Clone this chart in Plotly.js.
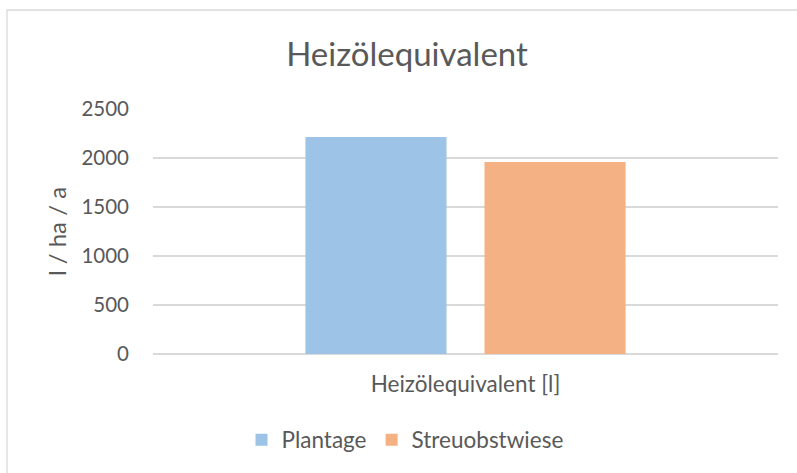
<!DOCTYPE html>
<html><head><meta charset="utf-8">
<script src="https://cdn.plot.ly/plotly-3.0.1.min.js"></script>
<style>html,body{margin:0;padding:0;background:#fff;}#chart{width:797px;height:473px;}</style>
</head><body><div id="chart"></div>
<script>
const categories = ["Heizölequivalent [l]"];
const seriesNames = ["Plantage", "Streuobstwiese"];
const plantage = [2215];
const streuobstwiese = [1960];
const yTicks = [0, 500, 1000, 1500, 2000, 2500];
const colors = ["#9DC3E6", "#F4B183"];
const font = "Lato, 'Open Sans', sans-serif";
const txt = "#595959";

const traces = [
  {type:"bar", name:seriesNames[0], x:categories, y:plantage, marker:{color:colors[0]}, hoverinfo:"none"},
  {type:"bar", name:seriesNames[1], x:categories, y:streuobstwiese, marker:{color:colors[1]}, hoverinfo:"none"}
];
const layout = {
  width:797, height:473,
  margin:{l:153, r:19, t:109, b:119},
  paper_bgcolor:"#fff", plot_bgcolor:"#fff",
  font:{family:font, color:txt},
  title:{text:"Heizölequivalent", font:{size:33, color:txt, family:font}, x:407/797, xref:"container", xanchor:"center", y:1-54/473, yref:"container", yanchor:"middle"},
  barmode:"group", bargap:0.427, bargroupgap:0.212,
  xaxis:{showgrid:false, showline:false, zeroline:false, ticks:"", tickfont:{size:22.5, color:txt}, ticklabelstandoff:14, fixedrange:true},
  yaxis:{range:[0,2500], tickvals:yTicks, ticktext:yTicks.map(String), showgrid:true, gridcolor:"#D9D9D9", gridwidth:1.3, zeroline:true, zerolinecolor:"#D9D9D9", zerolinewidth:1.3, showline:false, ticks:"", tickfont:{size:20.5, color:txt}, ticklabelstandoff:23,
    title:{text:"l / ha / a", font:{size:24, color:txt}, standoff:8}},
  legend:{orientation:"h", x:405/797, xref:"container", xanchor:"center", y:1-440/473, yref:"container", yanchor:"middle", font:{size:22.5, color:txt}, itemwidth:30, traceorder:"normal"},
  showlegend:true
};
// chart frame: top edge at y=10px, left edge at x=7px, continuing past the page
layout.shapes = [{type:"rect", xref:"paper", yref:"paper",
  x0:(7-153)/625, x1:(810-153)/625,
  y0:-2, y1:(354-10)/245,
  line:{color:"#D9D9D9", width:1.3}, layer:"below"}];
Plotly.newPlot("chart", traces, layout, {displayModeBar:false, staticPlot:true});
</script></body></html>
